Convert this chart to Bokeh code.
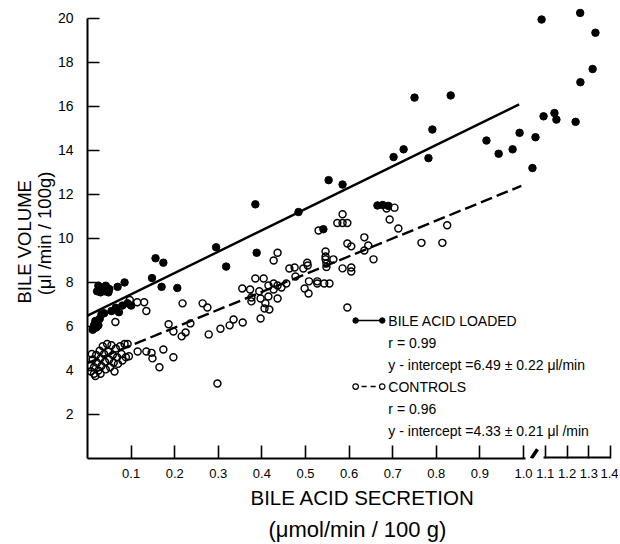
from bokeh.plotting import figure
from bokeh.models import Range1d, FixedTicker, CustomJSTickFormatter, Title, Label
from bokeh.embed import file_html
from bokeh.resources import INLINE

# ---------------- data ----------------
# Bile acid loaded (filled circles): bile acid secretion (umol/min/100 g), bile volume (ul/min/100 g)
loaded_x = [0.022, 0.025, 0.030, 0.035, 0.040, 0.042, 0.048, 0.050, 0.028,
            0.012, 0.015, 0.018, 0.020, 0.022, 0.028, 0.032, 0.025,
            0.038, 0.055, 0.065, 0.072, 0.080, 0.092, 0.100,
            0.069, 0.085, 0.148, 0.170, 0.206, 0.156, 0.174, 0.295, 0.318,
            0.385, 0.388, 0.484, 0.553, 0.585, 0.541, 0.665, 0.677, 0.690,
            0.702, 0.725, 0.750, 0.782, 0.791, 0.833, 0.915, 0.943, 0.975, 0.991,
            1.041, 1.055, 1.083, 1.092, 1.142, 1.151, 1.239, 1.261, 1.260, 1.317, 1.330]
loaded_y = [7.60, 7.85, 7.55, 7.75, 7.60, 7.85, 7.55, 7.70, 7.70,
            5.85, 6.05, 6.25, 5.95, 6.15, 6.35, 6.55, 6.05,
            6.60, 6.70, 6.85, 6.65, 6.95, 7.05, 6.95,
            7.80, 8.00, 8.20, 7.80, 7.75, 9.10, 8.90, 9.60, 8.72,
            11.55, 9.35, 11.20, 12.65, 12.45, 10.42, 11.50, 11.52, 11.48,
            13.70, 14.05, 16.40, 13.65, 14.95, 16.50, 14.45, 13.85, 14.05, 14.80,
            13.20, 14.60, 19.95, 15.55, 15.70, 15.40, 15.30, 17.10, 20.25, 17.70, 19.35]

# Controls (open circles)
control_x = [0.005, 0.008, 0.012, 0.015, 0.018, 0.020, 0.022, 0.025, 0.028, 0.030,
             0.032, 0.035, 0.038, 0.040, 0.042, 0.045, 0.048, 0.050, 0.052, 0.055,
             0.058, 0.060, 0.062, 0.065, 0.068, 0.070, 0.075, 0.078, 0.080, 0.085,
             0.088, 0.092, 0.095, 0.010, 0.015, 0.030,
             0.064, 0.097, 0.114, 0.130, 0.135,
             0.115, 0.135, 0.147, 0.149, 0.165, 0.174, 0.197,
             0.186, 0.197, 0.216, 0.225, 0.236, 0.218, 0.264, 0.275, 0.278, 0.298,
             0.305, 0.326, 0.335, 0.356,
             0.355, 0.373, 0.385, 0.404, 0.376, 0.376, 0.394, 0.397, 0.415, 0.408,
             0.406, 0.417, 0.397, 0.415, 0.427, 0.436, 0.427, 0.427, 0.436, 0.436,
             0.445, 0.456, 0.463, 0.475, 0.477, 0.495, 0.504, 0.505, 0.508, 0.498,
             0.507, 0.527, 0.527, 0.543, 0.555, 0.530, 0.546, 0.546, 0.546, 0.548,
             0.548, 0.564, 0.585, 0.605, 0.605, 0.596, 0.573, 0.585, 0.596, 0.585,
             0.596, 0.605, 0.635, 0.644, 0.635, 0.656, 0.686, 0.704, 0.693, 0.713,
             0.766, 0.814, 0.825]
control_y = [4.25, 3.95, 4.50, 4.15, 3.75, 4.70, 4.35, 4.00, 4.90, 4.55,
             4.20, 5.10, 4.75, 4.40, 4.05, 5.20, 4.85, 4.50, 4.15, 5.15,
             4.70, 4.35, 3.95, 5.00, 4.60, 4.30, 5.10, 4.75, 4.45, 5.20,
             4.60, 5.20, 4.65, 4.75, 3.85, 3.85,
             6.20, 7.20, 7.10, 7.10, 6.70,
             4.86, 4.86, 4.80, 4.55, 4.15, 4.95, 4.60,
             6.10, 5.77, 5.55, 5.73, 6.14, 7.05, 7.05, 6.86, 5.64, 3.41,
             5.90, 6.05, 6.32, 6.18,
             7.73, 7.68, 8.18, 8.18, 7.32, 7.14, 7.60, 7.27, 7.36, 7.05,
             6.82, 6.77, 6.36, 7.86, 7.95, 7.27, 7.68, 9.00, 9.35, 7.86,
             7.77, 7.95, 8.63, 8.68, 8.27, 8.63, 8.90, 8.77, 8.05, 7.73,
             7.50, 8.05, 7.95, 7.95, 7.95, 10.36, 9.41, 9.18, 9.05, 8.86,
             8.70, 9.05, 8.64, 8.68, 8.50, 6.86, 10.70, 10.70, 10.70, 11.10,
             9.77, 9.64, 10.05, 9.68, 9.45, 9.05, 11.36, 11.40, 10.86, 10.45,
             9.80, 9.80, 10.60]

# regression lines
loaded_intercept, loaded_slope, loaded_end = 6.49, 9.70, 0.99
control_intercept, control_slope, control_end = 4.33, 8.10, 0.995

x_tick_values = [0.1, 0.2, 0.3, 0.4, 0.5, 0.6, 0.7, 0.8, 0.9, 1.0, 1.1, 1.2, 1.3, 1.4]
y_tick_values = [2, 4, 6, 8, 10, 12, 14, 16, 18, 20]

legend_lines = ["BILE ACID LOADED", "r = 0.99", "y - intercept =6.49 \u00b1 0.22 \u03bcl/min",
                "CONTROLS", "r = 0.96", "y - intercept =4.33 \u00b1 0.21 \u03bcl /min"]

BREAK = 1.0   # scale halves beyond this value (axis break)


def U(x):
    return x if x <= BREAK else BREAK + (x - BREAK) / 2.0


FONT = "Liberation Sans"

p = figure(frame_width=528, frame_height=450,
           x_range=Range1d(0, 1.211), y_range=Range1d(0, 20.45),
           output_backend="svg", toolbar_location=None,
           min_border_left=87, min_border_right=3, min_border_top=8, min_border_bottom=0)
p.grid.visible = False
p.outline_line_color = None
p.background_fill_color = "white"
p.border_fill_color = "white"

# axes
xa = p.xaxis[0]
xa.ticker = FixedTicker(ticks=[U(t) for t in x_tick_values], minor_ticks=[])
xa.formatter = CustomJSTickFormatter(code="""
    const v = tick <= 1.0001 ? tick : 1 + (tick - 1) * 2;
    return v.toFixed(1);
""")
xa.bounds = (0, U(1.011))
xa.axis_line_width = 2
xa.axis_line_color = "black"
xa.major_tick_in = 13
xa.major_tick_out = 0
xa.major_tick_line_width = 1.6
xa.major_tick_line_color = "black"
xa.major_label_standoff = 10
xa.major_label_text_font = FONT
xa.major_label_text_font_size = "13px"
xa.major_label_text_color = "black"

ya = p.yaxis[0]
ya.ticker = FixedTicker(ticks=y_tick_values, minor_ticks=[])
ya.bounds = (0, 20)
ya.axis_line_width = 2
ya.axis_line_color = "black"
ya.major_tick_in = 12
ya.major_tick_out = 0
ya.major_tick_line_width = 1.6
ya.major_tick_line_color = "black"
ya.major_label_standoff = 14
ya.major_label_text_font = FONT
ya.major_label_text_font_size = "14px"
ya.major_label_text_color = "black"
ya.axis_label = "(\u03bcl /min / 100g)"
ya.axis_label_text_font = FONT
ya.axis_label_text_font_size = "18.5px"
ya.axis_label_text_font_style = "normal"
ya.axis_label_text_color = "black"
ya.axis_label_standoff = 0

p.add_layout(Title(text="BILE VOLUME", align="left", text_font=FONT, text_font_size="18.5px",
                   text_font_style="normal", text_color="black", standoff=-9, offset=155), "left")
p.add_layout(Title(text="BILE ACID SECRETION", align="left", text_font=FONT,
                   text_font_size="20.5px", text_font_style="normal", text_color="black",
                   standoff=6, offset=163), "below")
p.add_layout(Title(text="(\u03bcmol/min / 100 g)", align="left", text_font=FONT,
                   text_font_size="22px", text_font_style="normal", text_color="black",
                   standoff=7, offset=181), "below")

# right-hand part of the broken x axis and the break mark
p.segment(x0=[U(1.092)], x1=[U(1.4)], y0=[0], y1=[0], line_color="black", line_width=4)
p.segment(x0=[U(1.036)], x1=[U(1.064)], y0=[0], y1=[0.42], line_color="black", line_width=3.5)

# regression lines
p.line([0, U(loaded_end)], [loaded_intercept, loaded_intercept + loaded_slope * loaded_end],
       line_color="black", line_width=2.4)
p.line([0, U(control_end)], [control_intercept, control_intercept + control_slope * control_end],
       line_color="black", line_width=2.4, line_dash="12 5")

# points
p.scatter([U(v) for v in control_x], control_y, size=7, fill_alpha=0,
          line_color="black", line_width=1.45)
p.scatter([U(v) for v in loaded_x], loaded_y, size=7.5, fill_color="black", line_color="black")

# legend block
LX_TEXT, LX_A, LX_B = 0.69, 0.615, 0.676
LY_TOP, LY_STEP = 6.27, 1.0
rows_y = [LY_TOP - i * LY_STEP for i in range(len(legend_lines))]
for txt, yy in zip(legend_lines, rows_y):
    p.add_layout(Label(x=LX_TEXT, y=yy, text=txt, text_font=FONT, text_font_size="14px",
                       text_baseline="middle", text_align="left", text_color="black"))
p.line([LX_A, LX_B], [rows_y[0], rows_y[0]], line_color="black", line_width=1.6)
p.scatter([LX_A, LX_B], [rows_y[0], rows_y[0]], size=5.5, fill_color="black", line_color="black")
p.line([LX_A, LX_B], [rows_y[3], rows_y[3]], line_color="black", line_width=1.6, line_dash="5 4",
       line_dash_offset=-6)
p.scatter([LX_A, LX_B], [rows_y[3], rows_y[3]], size=5.5, fill_color="white", line_color="black",
          line_width=1.2)

open("out.html", "w").write(file_html(p, INLINE))
